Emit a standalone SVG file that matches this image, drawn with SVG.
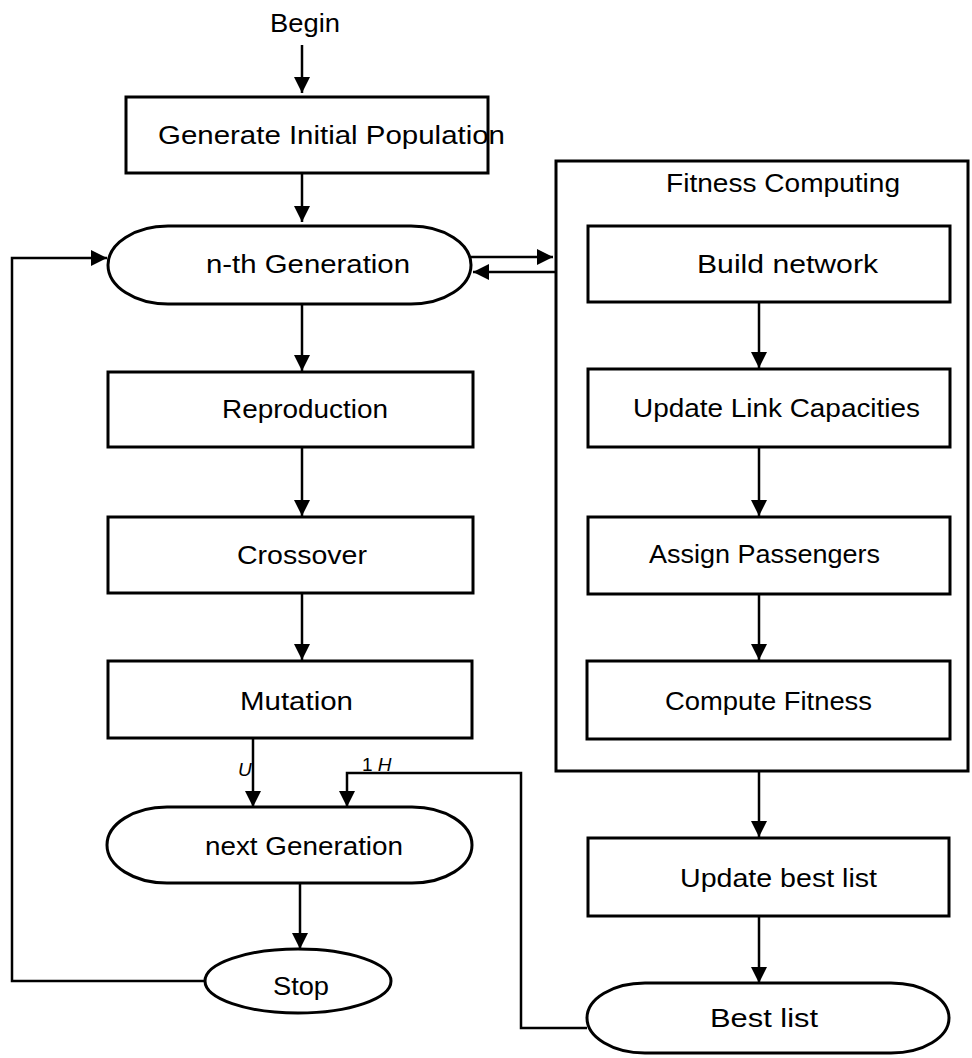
<svg xmlns="http://www.w3.org/2000/svg" width="972" height="1058" viewBox="0 0 972 1058">
<defs>
<marker id="ah" markerUnits="userSpaceOnUse" markerWidth="18" markerHeight="18" refX="16" refY="8" orient="auto">
<path d="M0,0 L16,8 L0,16 Z" fill="#000"/>
</marker>
<style>
.box{fill:#fff;stroke:#000;stroke-width:3}
.lbl{font-family:"Liberation Sans",Arial,sans-serif;font-size:26px;fill:#000}
.sm{font-family:"Liberation Sans",Arial,sans-serif;font-size:19px;font-style:italic;fill:#000}
.c{fill:none;stroke:#000;stroke-width:2.5}
.ca{fill:none;stroke:#000;stroke-width:2.5;marker-end:url(#ah)}
</style>
</defs>
<rect width="972" height="1058" fill="#fff"/>

<g id="connectors">
<line class="ca" x1="302" y1="45" x2="302" y2="93"/>
<line class="ca" x1="302" y1="173" x2="302" y2="222"/>
<line class="ca" x1="302" y1="304" x2="302" y2="371"/>
<line class="ca" x1="302" y1="447" x2="302" y2="516"/>
<line class="ca" x1="302" y1="593" x2="302" y2="660"/>
<line class="ca" x1="253" y1="738" x2="253" y2="807"/>
<line class="ca" x1="300" y1="883" x2="300" y2="949"/>
<polyline class="ca" points="205,981 12,981 12,258 107,258"/>
<line class="ca" x1="471" y1="257" x2="553" y2="257"/>
<line class="ca" x1="556" y1="272" x2="473" y2="272"/>
<line class="ca" x1="759" y1="302" x2="759" y2="368"/>
<line class="ca" x1="759" y1="447" x2="759" y2="516"/>
<line class="ca" x1="759" y1="594" x2="759" y2="660"/>
<line class="ca" x1="759" y1="772" x2="759" y2="837"/>
<line class="ca" x1="759" y1="916" x2="759" y2="983"/>
<polyline class="ca" points="587,1028 521,1028 521,773 347,773 347,807"/>
<text class="sm" x="238" y="776">U</text>
<text class="sm" x="362" y="771"><tspan font-style="normal">1</tspan> H</text>
</g>

<g id="begin">
<text class="lbl" x="270" y="32" textLength="70" lengthAdjust="spacingAndGlyphs">Begin</text>
</g>

<g id="generate">
<rect class="box" x="126" y="97" width="362" height="76"/>
<text class="lbl" x="158" y="144" textLength="347" lengthAdjust="spacingAndGlyphs">Generate  Initial  Population</text>
</g>

<g id="nth">
<rect class="box" x="108" y="226" width="363" height="78" rx="60" ry="39"/>
<text class="lbl" x="206" y="273" textLength="204" lengthAdjust="spacingAndGlyphs">n-th  Generation</text>
</g>

<g id="reproduction">
<rect class="box" x="108" y="372" width="365" height="75"/>
<text class="lbl" x="222" y="418" textLength="166" lengthAdjust="spacingAndGlyphs">Reproduction</text>
</g>

<g id="crossover">
<rect class="box" x="108" y="517" width="365" height="76"/>
<text class="lbl" x="237" y="564" textLength="130" lengthAdjust="spacingAndGlyphs">Crossover</text>
</g>

<g id="mutation">
<rect class="box" x="108" y="661" width="364" height="77"/>
<text class="lbl" x="240" y="710" textLength="113" lengthAdjust="spacingAndGlyphs">Mutation</text>
</g>

<g id="next">
<rect class="box" x="107" y="807" width="365" height="76" rx="60" ry="38"/>
<text class="lbl" x="205" y="855" textLength="198" lengthAdjust="spacingAndGlyphs">next Generation</text>
</g>

<g id="stop">
<ellipse class="box" cx="298" cy="981" rx="93" ry="32"/>
<text class="lbl" x="273" y="995" textLength="56" lengthAdjust="spacingAndGlyphs">Stop</text>
</g>

<g id="fitness">
<rect class="box" x="556" y="161" width="412" height="610" fill="none" style="fill:none"/>
<text class="lbl" x="666" y="192" textLength="234" lengthAdjust="spacingAndGlyphs">Fitness Computing</text>
</g>

<g id="build">
<rect class="box" x="588" y="226" width="362" height="76"/>
<text class="lbl" x="697" y="273" textLength="181" lengthAdjust="spacingAndGlyphs">Build  network</text>
</g>

<g id="updatelink">
<rect class="box" x="588" y="369" width="362" height="78"/>
<text class="lbl" x="633" y="417" textLength="287" lengthAdjust="spacingAndGlyphs">Update Link Capacities</text>
</g>

<g id="assign">
<rect class="box" x="588" y="517" width="362" height="77"/>
<text class="lbl" x="649" y="563" textLength="231" lengthAdjust="spacingAndGlyphs">Assign Passengers</text>
</g>

<g id="compute">
<rect class="box" x="587" y="661" width="363" height="78"/>
<text class="lbl" x="665" y="710" textLength="207" lengthAdjust="spacingAndGlyphs">Compute Fitness</text>
</g>

<g id="updatebest">
<rect class="box" x="588" y="838" width="361" height="78"/>
<text class="lbl" x="680" y="887" textLength="197" lengthAdjust="spacingAndGlyphs">Update best list</text>
</g>

<g id="bestlist">
<rect class="box" x="587" y="983" width="362" height="70" rx="58" ry="35"/>
<text class="lbl" x="710" y="1027" textLength="108" lengthAdjust="spacingAndGlyphs">Best  list</text>
</g>
</svg>
